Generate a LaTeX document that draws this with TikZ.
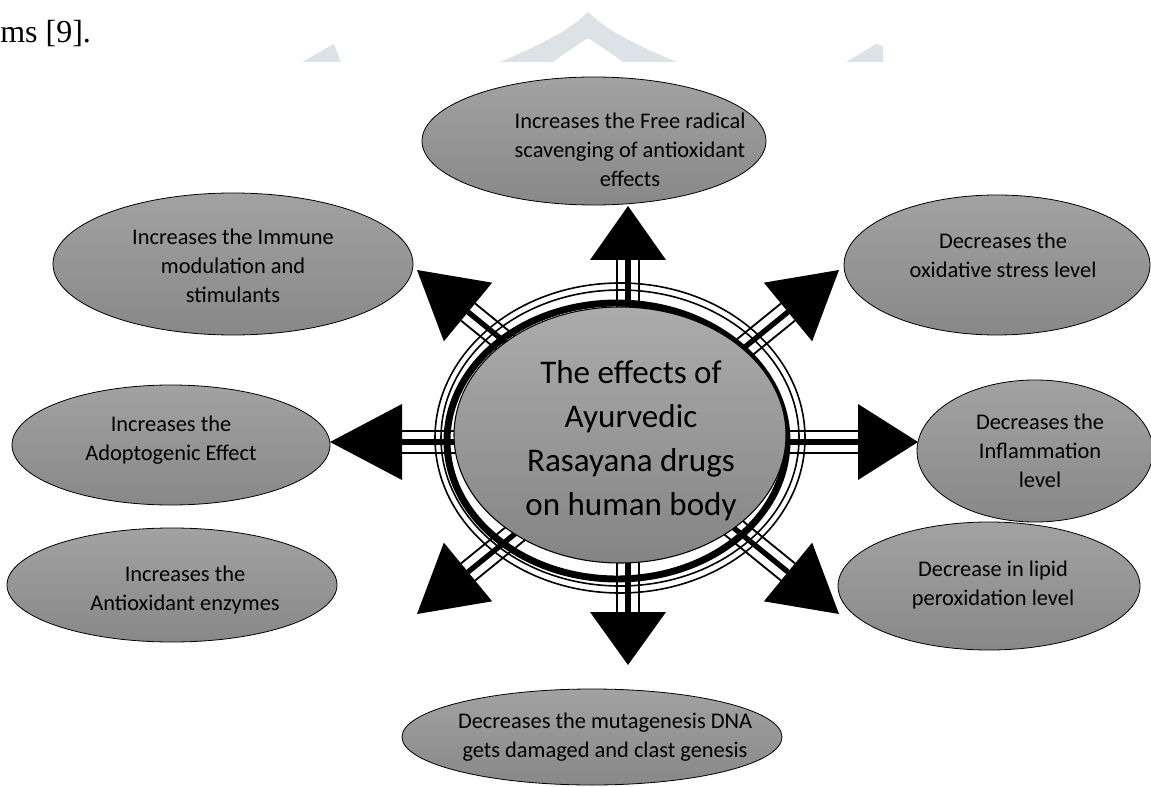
\documentclass[tikz,border=0pt]{standalone}
\usepackage{fontspec}
\setmainfont{Carlito}
\newfontfamily\pagefont{Liberation Serif}
\usetikzlibrary{positioning,calc,shapes.geometric}

\definecolor{markgray}{RGB}{220,227,231}

\begin{document}
\begin{tikzpicture}[x=0.75pt,y=0.75pt,yscale=-1,xscale=1,
  effect/.style={ellipse, draw=black, line width=0.6pt, inner sep=0pt,
    top color={rgb,255:red,162;green,162;blue,162}, bottom color={rgb,255:red,136;green,136;blue,136}},
  effecttext/.style={align=center, font=\fontsize{16.8pt}{21.8pt}\selectfont},
  hubtext/.style={align=center, font=\fontsize{24.8pt}{33pt}\selectfont},
  shaftline/.style={draw=black, line width=18pt,
    postaction={draw=white, line width=15pt},
    postaction={draw=black, line width=4pt}},
  ringline/.style={draw=black, line width=1.2pt}]
\useasboundingbox (0,0) rectangle (1151,787);

%watermark and page text
\fill[markgray] (500,62) .. controls (540,45) and (570,30) .. (588,12) .. controls (606,30) and (636,45) .. (677,62) -- (623,62) .. controls (610,52) and (598,45) .. (588,38) .. controls (578,45) and (566,52) .. (553,62) -- cycle;
\fill[markgray] (302,62) -- (334,44) -- (341,62) -- cycle;
\fill[markgray] (846,62) -- (876,44) -- (883,46) -- (883,62) -- cycle;
\node[anchor=base west, inner sep=0pt, font=\pagefont\fontsize{24pt}{26pt}\selectfont] (pagetext) at (0,43) {ms [9].};

% centre of the arrows
\coordinate (axis) at (628,442);

% arrow ends
\coordinate (bN) at (628,260);  \coordinate (tN) at (628,206);
\coordinate (bS) at (628,612);  \coordinate (tS) at (628,665);
\coordinate (bW) at (402,442);  \coordinate (tW) at (330,442);
\coordinate (bE) at (858,442);  \coordinate (tE) at (918,442);
\coordinate (bNW) at (468,312); \coordinate (tNW) at (417,270);
\coordinate (bNE) at (788,312); \coordinate (tNE) at (839,270);
\coordinate (bSW) at (468,572); \coordinate (tSW) at (417,614);
\coordinate (bSE) at (788,572); \coordinate (tSE) at (839,614);

% shafts and heads
\foreach \b/\t in {bN/tN,bS/tS,bW/tW,bE/tE,bNW/tNW,bNE/tNE,bSW/tSW,bSE/tSE}{
  \draw[shaftline] (axis) -- (\b);
  \fill[black] ($(\b)!28.5pt!90:(\t)$) -- (\t) -- ($(\b)!28.5pt!-90:(\t)$) -- cycle;
}

%Shape: rings round the hub
\draw[ringline] (620,438) ellipse [x radius=185, y radius=155];
\draw[ringline] (620,438) ellipse [x radius=179, y radius=148];
\draw[black, line width=5.2pt] (617,441) ellipse [x radius=170, y radius=138];

% hub
\node[ellipse, draw=black, line width=0.8pt, inner sep=0pt, minimum width=249pt, minimum height=192pt,
  top color={rgb,255:red,172;green,172;blue,172}, bottom color={rgb,255:red,132;green,132;blue,132}] (hub) at (620,435) {};
\node[hubtext] (hubtxt) at (631,441) {The effects of\\Ayurvedic\\Rasayana drugs\\on human body};

% effects
\node[effect, minimum width=258pt, minimum height=96pt] (radical) at (594,141) {};
\node[effect, minimum width=270pt, minimum height=106.5pt] (immune) at (233,264) {};
\node[effect, minimum width=229.5pt, minimum height=105pt] (oxstress) at (997,265) {};
\node[effect, minimum width=238.5pt, minimum height=90pt] (adopto) at (171,445) {};
\node[effect, minimum width=177pt, minimum height=106.5pt] (inflam) at (1035,451) {};
\node[effect, minimum width=247.5pt, minimum height=85.5pt] (enzymes) at (172,585) {};
\node[effect, minimum width=226.5pt, minimum height=96pt] (lipid) at (989,586) {};
\node[effect, minimum width=285pt, minimum height=72pt] (dna) at (592,737) {};

% Text Node
\node[effecttext] (radicaltxt) at (630,150) {Increases the Free radical\\scavenging of antioxidant\\effects};
\node[effecttext] (immunetxt) at (233,266) {Increases the Immune\\modulation and\\stimulants};
\node[effecttext] (oxstresstxt) at (1003,255) {Decreases the\\oxidative stress level};
\node[effecttext] (adoptotxt) at (171,440) {Increases the\\Adoptogenic Effect};
\node[effecttext] (inflamtxt) at (1040,451) {Decreases the\\Inflammation\\level};
\node[effecttext] (enzymestxt) at (185,590) {Increases the\\Antioxidant enzymes};
\node[effecttext] (lipidtxt) at (993,585) {Decrease in lipid\\peroxidation level};
\node[effecttext] (dnatxt) at (605,737) {Decreases the mutagenesis DNA\\gets damaged and clast genesis};

\end{tikzpicture}
\end{document}
